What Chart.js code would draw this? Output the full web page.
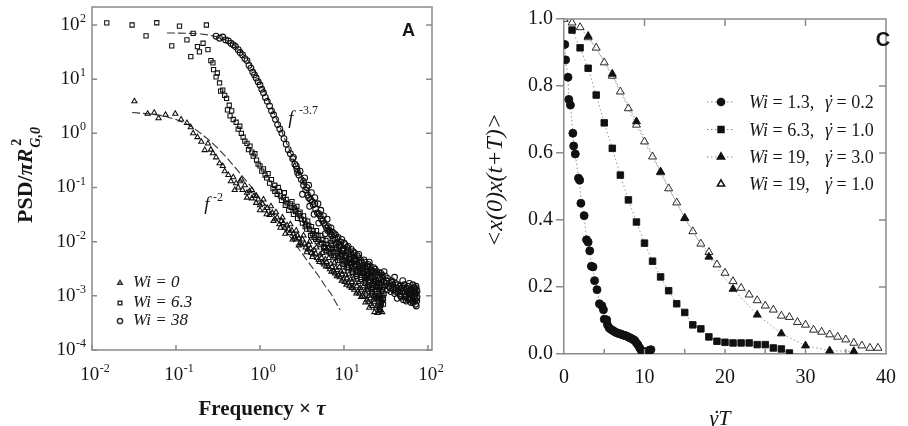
<!DOCTYPE html>
<html><head><meta charset="utf-8">
<script src="https://cdn.jsdelivr.net/npm/chart.js@4.4.0/dist/chart.umd.min.js"></script>
<style>
html,body{margin:0;padding:0;background:#fff;}
#wrap{position:relative;width:908px;height:426px;overflow:hidden;background:#fff;}
#ca{position:absolute;left:0;top:0;width:454px;height:426px;}
#cc{position:absolute;left:454px;top:0;width:454px;height:426px;}
</style></head><body>
<div id="wrap"><canvas id="ca" width="454" height="426"></canvas><canvas id="cc" width="454" height="426"></canvas></div>
<script>
// ---------- Panel A data: [frequency x tau, PSD] ----------
const wi0Pts = [[0.032,3.9],[0.046,2.3],[0.055,2.4],[0.062,1.9],[0.075,2.2],[0.098,2.3],[0.115,1.8],[0.135,1.55],[0.15,1.3],[0.16,1.0],[0.18,0.85],[0.2,0.7],[0.22,0.49],[0.24,0.65],[0.26,0.5],[0.275,0.43],[0.3,0.36],[0.33,0.28],[0.36,0.25],[0.38,0.2],[0.42,0.17],[0.45,0.13],[0.48,0.155],[0.52,0.12],[0.55,0.1],[0.58,0.13],[0.62,0.09],[0.66,0.11],[0.7,0.08],[0.75,0.085],[0.8,0.063],[0.85,0.07],[0.9,0.052],[0.95,0.06],[1.0,0.047],[1.07,0.05],[1.14,0.038],[1.22,0.042],[1.3,0.031],[1.4,0.034],[1.5,0.026],[1.6,0.028],[1.7,0.021],[1.8,0.024],[1.95,0.018],[2.1,0.02],[2.25,0.0145],[2.4,0.016],[2.6,0.012],[2.8,0.013],[3.0,0.0095],[3.2,0.011],[3.5,0.0078],[3.8,0.0088],[4.1,0.0062],[4.4,0.007],[4.8,0.005],[5.2,0.0058],[5.6,0.0041],[6.0,0.0047],[6.5,0.0034],[7.0,0.0039],[7.5,0.0028],[8.0,0.0033],[8.6,0.0024],[9.2,0.0028],[9.8,0.002],[10.5,0.0024],[11.2,0.0017],[12,0.002],[12.8,0.0014],[13.7,0.0017],[14.6,0.0012],[15.6,0.0014],[16.6,0.001],[17.7,0.0012],[18.8,0.00085],[20,0.001],[21,0.0007],[22.5,0.00085],[24,0.0006],[25.5,0.00075],[27,0.00055]];
const wi0Cloud = [[1.9,0.022],[2.2,0.017],[2.5,0.014],[2.7,0.011],[2.9,0.0115],[3.1,0.0088],[3.4,0.0092],[3.7,0.0072],[4.0,0.0075],[4.3,0.0058],[4.6,0.006],[5.0,0.0046],[5.4,0.005],[5.8,0.0038],[6.2,0.0042],[6.8,0.0031],[7.2,0.0034],[7.8,0.0026],[8.3,0.003],[8.9,0.0022],[9.5,0.0025],[10.2,0.0018],[10.8,0.0021],[11.6,0.0015],[12.4,0.0018],[13.2,0.0013],[14.2,0.0015],[15.1,0.0011],[16.1,0.0013],[17.2,0.00095],[18.2,0.0011],[19.4,0.00078],[20.5,0.0009],[21.7,0.00065],[23,0.00078],[24.7,0.00065],[26.2,0.0006],[27.5,0.0007],[28.5,0.0005]];
const wi0Cloud2 = [[0.5,0.09],[0.6,0.14],[0.7,0.065],[0.8,0.09],[0.9,0.07],[1.0,0.038],[1.1,0.06],[1.2,0.032],[1.35,0.045],[1.45,0.024],[1.55,0.035],[1.75,0.018],[1.85,0.028],[2.0,0.014],[2.3,0.021],[2.45,0.011],[2.7,0.016],[2.9,0.0085],[3.3,0.013],[3.6,0.0064],[3.9,0.01],[4.2,0.0052],[4.7,0.0078],[5.1,0.0042],[5.5,0.0062],[6.1,0.0035],[6.6,0.005],[7.1,0.0028],[7.7,0.0041],[8.2,0.0023],[8.8,0.0034],[9.4,0.0019],[10,0.0029],[10.7,0.0016],[11.5,0.0025],[12.3,0.0014],[13,0.0021],[14,0.0011],[15,0.0018],[16,0.00095],[17,0.0015],[18,0.00075],[19,0.0013],[20,0.0006],[21.5,0.0011],[23,0.0005],[24,0.00095],[25,0.00048],[26,0.0009],[27,0.00065],[28,0.00085],[26.5,0.00052]];
const wi63Pts = [[0.015,109],[0.030,100],[0.044,63],[0.059,110],[0.089,41],[0.11,95],[0.135,53],[0.16,70],[0.15,26],[0.18,40],[0.19,32],[0.23,100],[0.21,46],[0.24,35],[0.26,22],[0.275,20],[0.28,15],[0.30,11],[0.31,13],[0.33,8.5],[0.34,6],[0.36,6.3],[0.38,5],[0.40,4.4],[0.41,2.7],[0.43,3.3],[0.44,2.1],[0.46,2.6],[0.48,1.8],[0.52,1.6],[0.55,1.2],[0.575,1.35],[0.60,1.0],[0.63,0.85],[0.66,0.72],[0.70,0.65],[0.73,0.5],[0.76,0.58],[0.80,0.45],[0.83,0.38],[0.87,0.42],[0.91,0.32],[0.95,0.27],[1.0,0.25],[1.05,0.2],[1.1,0.22],[1.15,0.17],[1.2,0.15],[1.25,0.18],[1.3,0.12],[1.37,0.14],[1.43,0.095],[1.5,0.11],[1.6,0.075],[1.7,0.085],[1.8,0.058],[1.9,0.065],[2.0,0.047],[2.1,0.052],[2.2,0.038],[2.35,0.043],[2.5,0.032],[2.65,0.036],[2.8,0.027],[3.0,0.03],[3.2,0.022],[3.4,0.025],[3.6,0.017],[3.8,0.02],[4.0,0.013],[4.3,0.016],[4.6,0.011],[4.9,0.013],[5.2,0.0088],[5.6,0.011],[6.0,0.0075],[6.4,0.009],[6.8,0.0062],[7.3,0.0075],[7.8,0.0052],[8.3,0.0065],[8.9,0.0045],[9.5,0.0055],[10,0.0038],[10.6,0.0047],[11.3,0.0033],[12,0.004],[12.7,0.0029],[13.5,0.0035],[14.3,0.0025],[15.2,0.0031],[16,0.0022],[17,0.0027],[18,0.0019],[19,0.0024],[20,0.0016],[21,0.0021],[22,0.0014],[23,0.0018],[24,0.0012],[25,0.0016],[26,0.001],[27,0.0014],[28,0.0008],[29,0.0011],[29.5,0.0007],[28.5,0.0013],[26.5,0.0006],[24.5,0.0009]];
const wi63Cloud = [[2.3,0.05],[2.6,0.04],[2.9,0.033],[3.1,0.026],[3.5,0.021],[3.9,0.017],[4.2,0.014],[4.5,0.013],[4.8,0.01],[5.4,0.0095],[5.8,0.0082],[6.2,0.0068],[6.6,0.0078],[7.0,0.006],[7.6,0.0066],[8.0,0.0056],[8.6,0.005],[9.2,0.0058],[9.8,0.0044],[10.3,0.0042],[11,0.0036],[11.6,0.0041],[12.3,0.0034],[13,0.0031],[13.9,0.0029],[14.7,0.0027],[15.6,0.0024],[16.5,0.0026],[17.5,0.0021],[18.5,0.0022],[19.5,0.0018],[20.5,0.0019],[21.5,0.0016],[22.5,0.0017],[23.5,0.0013],[24,0.0015],[25.5,0.0011],[26,0.0013],[27.5,0.001],[28,0.0012],[29,0.00085],[27,0.0008],[25,0.0009],[23,0.001],[21,0.0013],[19,0.0015]];
const wi63Cloud2 = [[1.5,0.085],[1.65,0.1],[1.75,0.07],[1.95,0.08],[2.05,0.06],[2.4,0.055],[2.55,0.042],[2.75,0.045],[3.0,0.035],[3.3,0.03],[3.45,0.019],[3.7,0.024],[4.1,0.019],[4.4,0.012],[4.7,0.016],[5.0,0.011],[5.3,0.013],[5.7,0.0078],[6.1,0.0105],[6.5,0.0065],[7.1,0.0085],[7.5,0.0055],[8.1,0.0072],[8.4,0.0045],[9.0,0.0062],[9.6,0.0039],[10.2,0.0052],[10.9,0.0033],[11.8,0.0045],[12.5,0.0027],[13.3,0.0038],[14,0.0023],[15,0.0034],[15.8,0.002],[16.8,0.0029],[17.8,0.0017],[18.8,0.0026],[19.8,0.0014],[20.8,0.0023],[21.8,0.0012],[22.8,0.002],[23.8,0.001],[24.8,0.0017],[25.8,0.0009],[26.8,0.0015],[27.8,0.00075],[28.8,0.0013],[29.5,0.0009],[30,0.0011]];
const wi38Pts = [[0.30,62],[0.33,57],[0.36,60],[0.39,53],[0.42,51],[0.45,46],[0.48,43],[0.51,40],[0.55,35],[0.58,31],[0.62,28],[0.66,24],[0.70,22],[0.74,18],[0.78,16],[0.82,13.5],[0.86,12],[0.90,10.5],[0.95,9],[1.0,7.8],[1.05,6.5],[1.1,5.6],[1.16,4.6],[1.22,3.9],[1.3,3.2],[1.37,2.6],[1.45,2.2],[1.53,1.8],[1.62,1.45],[1.72,1.2],[1.82,1.0],[1.93,0.8],[2.05,0.63],[2.17,0.5],[2.3,0.42],[2.45,0.34],[2.6,0.27],[2.75,0.22],[2.9,0.17],[3.1,0.14],[3.3,0.11],[3.5,0.09],[3.2,0.075],[3.7,0.072],[4.0,0.06],[3.9,0.045],[4.3,0.048],[4.6,0.04],[4.4,0.032],[5.0,0.033],[5.4,0.026],[5.0,0.022],[5.8,0.022],[6.2,0.018],[6.0,0.014],[6.7,0.016],[7.2,0.013],[7.0,0.0095],[7.8,0.011],[8.4,0.0095],[8.0,0.0075],[9.0,0.0085],[9.5,0.006],[10,0.0075],[10,0.0095],[10.5,0.0055],[11,0.0068],[11.5,0.0048],[12,0.006],[12.5,0.0042],[13,0.0055],[14,0.0045],[14.5,0.0036],[15,0.0042],[15,0.0058],[16,0.0032],[16.5,0.004],[17,0.0036],[18,0.0028],[19,0.0034],[20,0.0025],[20,0.0042],[21,0.003],[22,0.0022],[23,0.0027],[24,0.0019],[25,0.0024],[26,0.0017],[27,0.0022],[28,0.0016],[29,0.0021],[30,0.0015],[30,0.0028],[32,0.0019],[33,0.0013],[35,0.0017],[36,0.0012],[38,0.0016],[40,0.0011],[40,0.0022],[42,0.0014],[43,0.0009],[45,0.0013],[47,0.001],[49,0.0012],[50,0.0019],[51,0.00085],[53,0.0011],[55,0.0008],[57,0.0012],[59,0.0009],[60,0.0017],[61,0.0011],[63,0.00075],[65,0.001],[66,0.0016],[67,0.0008],[69,0.0011],[71,0.0007],[72,0.0015],[73,0.0009],[74,0.0012]];
const wi38Cloud = [[2.5,0.36],[2.7,0.25],[2.8,0.19],[3.0,0.2],[3.3,0.13],[3.6,0.1],[3.8,0.065],[4.2,0.055],[4.5,0.05],[4.8,0.034],[5.2,0.03],[5.6,0.024],[6.0,0.02],[6.4,0.016],[6.9,0.014],[7.4,0.011],[7.6,0.014],[8.2,0.0115],[8.7,0.0082],[9.2,0.0098],[9.8,0.0066],[10.8,0.0078],[11.8,0.0052],[12.8,0.0065],[13.5,0.0044],[14.8,0.005],[15.5,0.0035],[17.5,0.0042],[18.5,0.0031],[19.5,0.0038],[21.5,0.0026],[22.5,0.0033],[24.5,0.0028],[26.5,0.0021],[27.5,0.0026],[29.5,0.0018],[31,0.0023],[34,0.0015],[37,0.0019],[39,0.0013],[41,0.0017],[44,0.0012],[46,0.0015],[48,0.00095],[52,0.0014],[54,0.001],[56,0.0013],[58,0.00085],[62,0.0013],[64,0.0009],[68,0.0012],[70,0.00085],[73,0.0013],[74,0.00095],[70,0.0014],[64,0.0011],[58,0.0015],[52,0.0016]];
const wi38Cloud2 = [[3.4,0.15],[3.8,0.11],[4.1,0.08],[4.5,0.065],[4.9,0.05],[5.3,0.038],[5.7,0.03],[6.3,0.026],[6.5,0.019],[7.0,0.018],[7.3,0.015],[7.9,0.0135],[8.5,0.012],[8.8,0.009],[9.4,0.011],[9.7,0.0072],[10.3,0.0088],[11.2,0.0082],[11.4,0.0058],[12.2,0.0072],[13.3,0.0062],[13.8,0.0048],[14.4,0.0055],[15.8,0.0045],[16.3,0.0035],[17.3,0.0046],[18.8,0.0036],[19.2,0.0027],[20.5,0.0035],[21.8,0.0029],[23.5,0.0031],[25.5,0.0021],[26,0.0027],[28.5,0.0024],[31.5,0.0017],[33,0.0021],[35.5,0.0014],[37.5,0.0018],[41.5,0.0012],[43.5,0.0016],[46.5,0.0011],[48.5,0.0014],[53.5,0.00095],[55.5,0.0014],[58.5,0.0011],[61.5,0.00085],[63.5,0.0012],[66.5,0.00075],[68.5,0.001],[71.5,0.0011],[73.5,0.0008],[72.5,0.00065],[69.5,0.0013],[67.5,0.0014]];
const fitWi0 = [[0.03,2.42],[0.05,2.28],[0.07,2.11],[0.1,1.8],[0.13,1.53],[0.16,1.27],[0.2,0.98],[0.25,0.74],[0.3,0.57],[0.4,0.36],[0.5,0.24],[0.6,0.17],[0.8,0.1],[1.0,0.063],[1.3,0.038],[1.6,0.025],[2,0.016],[2.5,0.0102],[3,0.0068],[4,0.0037],[5,0.0023],[6,0.0015],[7,0.0011],[8,0.00075],[9,0.00055]];
const fitWi38 = [[0.078,71],[0.1,71],[0.15,70],[0.2,68],[0.25,65],[0.3,61],[0.35,57],[0.4,52],[0.45,47],[0.5,42],[0.6,32],[0.7,24],[0.8,17.5],[0.9,12.5],[1.0,9],[1.1,6.6],[1.2,4.9],[1.35,3.2],[1.5,2.2],[1.7,1.4],[2.0,0.75],[2.3,0.45],[2.6,0.28],[3.0,0.17],[3.5,0.095],[4.0,0.058]];
const aXTickExps = [-2,-1,0,1,2];
const aYTickExps = [-4,-3,-2,-1,0,1,2];
const aLegend = ['Wi = 0','Wi = 6.3','Wi = 38'];

// ---------- Panel C data: [shear rate x T, autocorrelation] ----------
const wi13Pts = [[0.1,0.924],[0.2,0.878],[0.5,0.826],[0.6,0.76],[0.8,0.743],[1.1,0.659],[1.2,0.621],[1.4,0.597],[1.8,0.525],[1.95,0.519],[2.1,0.45],[2.5,0.413],[2.8,0.341],[3.0,0.334],[3.2,0.308],[3.4,0.262],[3.6,0.26],[3.8,0.219],[4.1,0.192],[4.4,0.15],[4.7,0.144],[4.9,0.132],[5.0,0.104],[5.3,0.102],[5.4,0.087],[5.6,0.078],[5.8,0.074],[6.0,0.071],[6.2,0.068],[6.4,0.065],[6.6,0.063],[6.8,0.061],[7.0,0.06],[7.2,0.058],[7.4,0.056],[7.6,0.055],[7.8,0.053],[8.0,0.051],[8.2,0.048],[8.4,0.046],[8.6,0.043],[8.8,0.04],[9.0,0.033],[9.2,0.027],[9.4,0.018],[9.6,0.011],[9.8,0.005],[10.0,0.003],[10.2,0.006],[10.4,0.008],[10.6,0.011],[10.8,0.013]];
const wi63cPts = [[1,0.967],[2,0.914],[3,0.853],[4,0.773],[5,0.69],[6,0.614],[7,0.534],[8,0.46],[9,0.394],[10,0.331],[11,0.277],[12,0.23],[13,0.189],[14,0.15],[15,0.124],[16,0.087],[17,0.075],[18,0.051],[19,0.038],[20,0.035],[21,0.033],[22,0.033],[23,0.033],[24,0.028],[25,0.028],[26,0.018],[27,0.015],[28,0.003]];
const wi19g3Pts = [[3,0.949],[6,0.836],[9,0.694],[12,0.544],[15,0.405],[18,0.29],[21,0.194],[24,0.117],[27,0.061],[30,0.025],[33,0.01],[36,0.008]];
const wi19g1Pts = [[0,1.0],[1,0.989],[2,0.975],[3,0.945],[4,0.914],[5,0.87],[6,0.83],[7,0.783],[8,0.733],[9,0.684],[10,0.634],[11,0.589],[12,0.542],[13,0.494],[14,0.452],[15,0.406],[16,0.366],[17,0.329],[18,0.304],[19,0.267],[20,0.242],[21,0.217],[22,0.197],[23,0.177],[24,0.16],[25,0.144],[26,0.132],[27,0.114],[28,0.11],[29,0.095],[30,0.087],[31,0.072],[32,0.066],[33,0.058],[34,0.051],[35,0.043],[36,0.033],[37,0.025],[38,0.018],[39,0.018]];
const cXTicks = [0,10,20,30,40];
const cYTicks = [0,0.2,0.4,0.6,0.8,1.0];
const cLegend = [['1.3','0.2'],['6.3','1.0'],['19','3.0'],['19','1.0']];

const SERIF = '"Liberation Serif", "Times New Roman", serif';
const SANS = '"Liberation Sans", Arial, sans-serif';
const INK = '#161616';
const FRAME = '#8a8a8a';
const xy = a => a.map(p => ({x:p[0], y:p[1]}));

function rich(ctx, x, y, parts){
  let cx = x;
  for (const [t,f] of parts){ ctx.font = f; ctx.fillText(t, cx, y); cx += ctx.measureText(t).width; }
  return cx;
}
// gamma with an over-dot
function gammaDot(ctx, x, y, size){
  ctx.font = 'italic ' + size + 'px ' + SERIF;
  const w = ctx.measureText('\u03b3').width;
  ctx.fillText('\u03b3', x, y);
  ctx.save(); ctx.textAlign = 'center';
  ctx.fillText('\u02d9', x + w/2 + 1.5, y);
  ctx.restore();
  return x + w;
}
function pow10(ctx, x, y, e, align){
  ctx.font = '19px ' + SERIF; const wb = ctx.measureText('10').width;
  ctx.font = '12px ' + SERIF; const we = ctx.measureText(e).width;
  const w = wb + we + 0.5;
  const x0 = align === 'right' ? x - w : x - w/2;
  ctx.textAlign = 'left'; ctx.textBaseline = 'middle';
  ctx.font = '19px ' + SERIF; ctx.fillText('10', x0, y);
  ctx.font = '12px ' + SERIF; ctx.fillText(e, x0 + wb + 0.5, y - 6);
}

const decorA = {
  id:'decorA',
  afterDraw(chart){
    const {ctx, chartArea:a, scales:{x,y}} = chart;
    ctx.save();
    ctx.strokeStyle = FRAME; ctx.lineWidth = 1.5;
    ctx.strokeRect(a.left, a.top, a.right - a.left, a.bottom - a.top);
    ctx.beginPath();
    aYTickExps.forEach(k => { const py = y.getPixelForValue(Math.pow(10,k));
      ctx.moveTo(a.left, py); ctx.lineTo(a.left + 5, py);
      ctx.moveTo(a.right, py); ctx.lineTo(a.right - 6, py); });
    aXTickExps.forEach(k => { const px = x.getPixelForValue(Math.pow(10,k));
      ctx.moveTo(px, a.bottom); ctx.lineTo(px, a.bottom - 5); });
    ctx.stroke();
    ctx.fillStyle = INK;
    aYTickExps.forEach(k => pow10(ctx, a.left - 6, y.getPixelForValue(Math.pow(10,k)), String(k), 'right'));
    aXTickExps.forEach(k => pow10(ctx, x.getPixelForValue(Math.pow(10,k)) + 3, 375, String(k), 'center'));
    // x title
    ctx.textBaseline = 'alphabetic'; ctx.textAlign = 'left';
    ctx.font = 'bold 21px ' + SERIF;
    const t1 = 'Frequency \u00d7 '; const w1 = ctx.measureText(t1).width;
    ctx.font = 'bold italic 21px ' + SERIF; const w2 = ctx.measureText('\u03c4').width;
    rich(ctx, 262 - (w1 + w2)/2, 415, [[t1,'bold 21px ' + SERIF],['\u03c4','bold italic 21px ' + SERIF]]);
    // y title (rotated)
    ctx.save();
    ctx.translate(25, 175); ctx.rotate(-Math.PI/2);
    ctx.font = 'bold 22px ' + SERIF; const m1 = ctx.measureText('PSD/').width;
    ctx.font = 'bold italic 22px ' + SERIF; const m2 = ctx.measureText('\u03c0R').width;
    ctx.font = 'bold italic 14px ' + SERIF; const m3 = ctx.measureText('G,0').width;
    const tot = m1 + m2 + m3 + 1; const s0 = -tot/2;
    const ex = rich(ctx, s0, 7, [['PSD/','bold 22px ' + SERIF],['\u03c0R','bold italic 22px ' + SERIF]]);
    ctx.font = 'bold italic 14px ' + SERIF; ctx.fillText('G,0', ex + 1, 15);
    ctx.font = 'bold 14px ' + SERIF; ctx.fillText('2', ex + 3, -4);
    ctx.restore();
    // power-law labels
    ctx.textBaseline = 'alphabetic';
    ctx.font = 'italic 19px ' + SERIF; ctx.textAlign = 'center';
    ctx.fillText('f', 291, 124); ctx.fillText('f', 207, 210);
    ctx.textAlign = 'left'; ctx.font = '12px ' + SERIF;
    ctx.fillText('-3.7', 299, 114); ctx.fillText('-2', 213, 201);
    // panel letter
    ctx.font = 'bold 18px ' + SANS; ctx.textAlign = 'center'; ctx.textBaseline = 'middle';
    ctx.fillText('A', 408.5, 31);
    // legend
    const styles = ['triangle','rect','circle'];
    const rows = [283, 303, 321];
    ctx.strokeStyle = '#333'; ctx.fillStyle = 'rgba(0,0,0,0)';
    styles.forEach((s,i) => Chart.helpers.drawPoint(ctx, {pointStyle:s, radius:2.6, rotation:0, borderWidth:0.9}, 120, rows[i]));
    ctx.fillStyle = INK; ctx.textAlign = 'left'; ctx.textBaseline = 'middle';
    ctx.font = 'italic 17px ' + SERIF;
    aLegend.forEach((t,i) => ctx.fillText(t, 133, rows[i]));
    ctx.restore();
  }
};

const ptStyle = (data, style, r) => ({data: xy(data), pointStyle: style, pointRadius: r, borderColor: '#0e0e0e', borderWidth: 1.05, backgroundColor: 'rgba(0,0,0,0)', showLine: false});

new Chart(document.getElementById('ca'), {
  type: 'scatter',
  data: { datasets: [
    ptStyle(wi38Pts.concat(wi38Cloud, wi38Cloud2), 'circle', 2.9),
    ptStyle(wi63Pts.concat(wi63Cloud, wi63Cloud2), 'rect', 3.0),
    ptStyle(wi0Pts.concat(wi0Cloud, wi0Cloud2), 'triangle', 3.0),
    {data: xy(fitWi38), showLine: true, pointRadius: 0, borderColor: '#333', borderWidth: 1.1, borderDash: [8,3], fill: false},
    {data: xy(fitWi0), showLine: true, pointRadius: 0, borderColor: '#333', borderWidth: 1.1, borderDash: [8,3], fill: false}
  ]},
  options: {
    responsive: false, animation: false, events: [],
    plugins: {legend: {display: false}, tooltip: {enabled: false}},
    layout: {padding: {left: 92, top: 7, right: 22, bottom: 76}},
    scales: {
      x: {type: 'logarithmic', min: 0.01, max: 111.6, display: false},
      y: {type: 'logarithmic', min: 1e-4, max: 214.8, display: false}
    }
  },
  plugins: [decorA]
});

const decorC = {
  id:'decorC',
  afterDraw(chart){
    const {ctx, chartArea:a, scales:{x,y}} = chart;
    ctx.save();
    ctx.strokeStyle = FRAME; ctx.lineWidth = 1.5;
    ctx.beginPath();
    ctx.moveTo(a.left, a.top); ctx.lineTo(a.right, a.top); ctx.lineTo(a.right, a.bottom);
    [10,20,30].forEach(v => { const px = x.getPixelForValue(v); ctx.moveTo(px, a.top); ctx.lineTo(px, a.top + 7); });
    [5,10,15,20,25,30,35].forEach(v => { const px = x.getPixelForValue(v); ctx.moveTo(px, a.bottom); ctx.lineTo(px, a.bottom - 5); });
    [0.2,0.4,0.6,0.8].forEach(v => { const py = y.getPixelForValue(v); ctx.moveTo(a.right, py); ctx.lineTo(a.right - 7, py); });
    ctx.stroke();
    ctx.fillStyle = INK;
    ctx.font = 'bold 20px ' + SANS; ctx.textAlign = 'center'; ctx.textBaseline = 'middle';
    ctx.fillText('C', 429, 40);
    // legend
    const rows = [102, 129.5, 157, 184];
    const mk = [
      {s:'circle', r:3.6, fill:'#111'}, {s:'rect', r:4.2, fill:'#111'},
      {s:'triangle', r:4.2, fill:'#111'}, {s:'triangle', r:4.2, fill:'#fff'}];
    rows.forEach((ry,i) => {
      if (i < 3) {
        ctx.save(); ctx.strokeStyle = '#8a8a8a'; ctx.lineWidth = 1; ctx.setLineDash([1.5,2.5]);
        ctx.beginPath(); ctx.moveTo(253, ry); ctx.lineTo(280, ry); ctx.stroke(); ctx.restore();
      }
      ctx.fillStyle = mk[i].fill; ctx.strokeStyle = '#111';
      Chart.helpers.drawPoint(ctx, {pointStyle: mk[i].s, radius: mk[i].r, rotation: 0, borderWidth: 0.9}, 267, ry);
      ctx.fillStyle = INK; ctx.textAlign = 'left'; ctx.textBaseline = 'alphabetic';
      const base = ry + 6;
      rich(ctx, 295, base, [['Wi','italic 18px ' + SERIF],[' = ' + cLegend[i][0] + ',','18px ' + SERIF]]);
      const gx = gammaDot(ctx, 371, base, 18);
      rich(ctx, gx, base, [[' = ' + cLegend[i][1],'18px ' + SERIF]]);
    });
    // y title
    ctx.save(); ctx.translate(42, 180); ctx.rotate(-Math.PI/2);
    ctx.font = 'italic 24px ' + SERIF; ctx.textAlign = 'center'; ctx.textBaseline = 'middle';
    ctx.fillText('<x(0)x(t+T)>', 0, 0);
    ctx.restore();
    // x title
    ctx.textAlign = 'left'; ctx.textBaseline = 'alphabetic';
    ctx.font = 'italic 22px ' + SERIF;
    const wg = ctx.measureText('\u03b3T').width;
    const gx2 = gammaDot(ctx, 266 - wg/2, 425, 22);
    ctx.font = 'italic 22px ' + SERIF; ctx.fillText('T', gx2, 425);
    ctx.restore();
  }
};

const cSeries = (data, style, r, fill) => ({data: xy(data), pointStyle: style, pointRadius: r, backgroundColor: fill, borderColor: '#111', borderWidth: 0.9,
  showLine: true, borderDash: [1.5,2.5], segment: {borderColor: '#8a8a8a'}, fill: false, tension: 0});

new Chart(document.getElementById('cc'), {
  type: 'scatter',
  data: { datasets: [
    cSeries(wi13Pts, 'circle', 4, '#111'),
    cSeries(wi63cPts, 'rect', 4.6, '#111'),
    cSeries(wi19g3Pts, 'triangle', 4.6, '#111'),
    cSeries(wi19g1Pts, 'triangle', 4.6, '#fff')
  ]},
  options: {
    responsive: false, animation: false, events: [],
    plugins: {legend: {display: false}, tooltip: {enabled: false}},
    layout: {padding: {left: 0, top: 19, right: 10, bottom: 0}},
    scales: {
      x: {type: 'linear', min: 0, max: 40, position: 'bottom',
        afterBuildTicks: s => { s.ticks = cXTicks.map(v => ({value: v})); },
        ticks: {font: {family: SERIF, size: 20}, color: INK, padding: 12, maxRotation: 0, callback: v => String(v)},
        grid: {display: true, drawOnChartArea: false, drawTicks: false},
        border: {display: true, color: FRAME, width: 1.5},
        afterFit: s => { s.height = 72; }},
      y: {type: 'linear', min: 0, max: 1, position: 'left',
        afterBuildTicks: s => { s.ticks = cYTicks.map(v => ({value: v})); },
        ticks: {font: {family: SERIF, size: 20}, color: INK, padding: 3, callback: v => v.toFixed(1)},
        grid: {display: true, drawOnChartArea: false, drawTicks: true, tickLength: 8, color: FRAME, lineWidth: 1.5},
        border: {display: true, color: FRAME, width: 1.5},
        afterFit: s => { s.width = 110; }}
    }
  },
  plugins: [decorC]
});
</script>
</body></html>
